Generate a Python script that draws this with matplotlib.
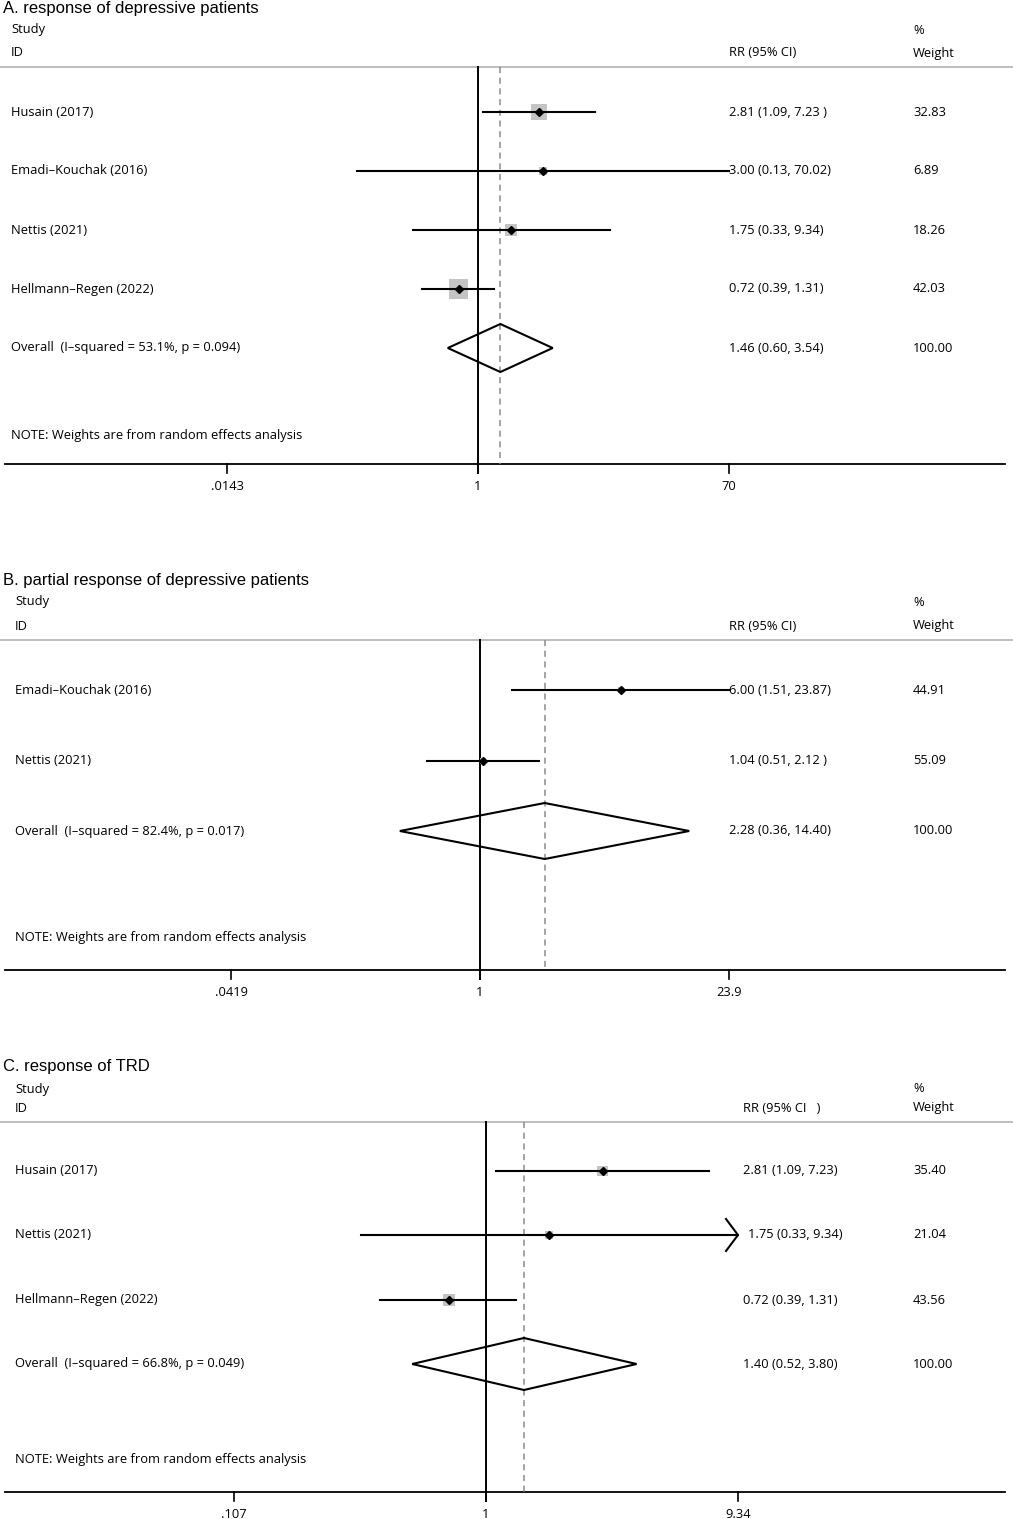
import numpy as np
import matplotlib.pyplot as plt
from matplotlib.patches import Polygon, Rectangle

# ---- data ----
titles = ["A. response of depressive patients",
          "B. partial response of depressive patients",
          "C. response of TRD"]

a_names = ["Husain (2017)", "Emadi\u2013Kouchak (2016)", "Nettis (2021)", "Hellmann\u2013Regen (2022)"]
a_rr = [2.81, 3.00, 1.75, 0.72]
a_lo = [1.09, 0.13, 0.33, 0.39]
a_hi = [7.23, 70.02, 9.34, 1.31]
a_txt = ["2.81 (1.09, 7.23 )", "3.00 (0.13, 70.02)", "1.75 (0.33, 9.34)", "0.72 (0.39, 1.31)"]
a_wt = [32.83, 6.89, 18.26, 42.03]
a_overall = (1.46, 0.60, 3.54)
a_overall_lbl = "Overall  (I\u2013squared = 53.1%, p = 0.094)"
a_overall_txt = "1.46 (0.60, 3.54)"
a_ticks = [0.0143, 1, 70]
a_ticklbl = [".0143", "1", "70"]
a_arrow = [False, False, False, False]

b_names = ["Emadi\u2013Kouchak (2016)", "Nettis (2021)"]
b_rr = [6.00, 1.04]
b_lo = [1.51, 0.51]
b_hi = [23.87, 2.12]
b_txt = ["6.00 (1.51, 23.87)", "1.04 (0.51, 2.12 )"]
b_wt = [44.91, 55.09]
b_overall = (2.28, 0.36, 14.40)
b_overall_lbl = "Overall  (I\u2013squared = 82.4%, p = 0.017)"
b_overall_txt = "2.28 (0.36, 14.40)"
b_ticks = [0.0419, 1, 23.9]
b_ticklbl = [".0419", "1", "23.9"]
b_arrow = [False, False]

c_names = ["Husain (2017)", "Nettis (2021)", "Hellmann\u2013Regen (2022)"]
c_rr = [2.81, 1.75, 0.72]
c_lo = [1.09, 0.33, 0.39]
c_hi = [7.23, 9.34, 1.31]
c_txt = ["2.81 (1.09, 7.23)", "1.75 (0.33, 9.34)", "0.72 (0.39, 1.31)"]
c_wt = [35.40, 21.04, 43.56]
c_overall = (1.40, 0.52, 3.80)
c_overall_lbl = "Overall  (I\u2013squared = 66.8%, p = 0.049)"
c_overall_txt = "1.40 (0.52, 3.80)"
c_ticks = [0.107, 1, 9.34]
c_ticklbl = [".107", "1", "9.34"]
c_arrow = [False, True, False]

W, H = 1013, 1519
BODY = "Open Sans"
TITLE = "Liberation Sans"
FS = 9.3

fig = plt.figure(figsize=(W / 100, H / 100), dpi=100)


def forest(title, names, rr, lo, hi, txt, wt, arrow, overall, ov_lbl, ov_txt,
           ticks, ticklbl, lay):
    # axes over the whole figure; y in pixel rows, x on log scale
    ax = fig.add_axes([0, 0, 1, 1])
    ax.set_xscale("log")
    one, ppl = lay["one"], lay["ppl"]
    ax.set_xlim(np.exp(-one / ppl), np.exp((W - one) / ppl))
    ax.set_ylim(H, 0)
    ax.axis("off")
    ax.patch.set_alpha(0)
    tx = ax.get_yaxis_transform()  # x in axes fraction, y in data

    def fx(px):
        return px / W

    def put(px, y, s, **kw):
        ax.text(fx(px), y, s, transform=tx, fontsize=kw.pop("fontsize", FS),
                family=kw.pop("family", BODY), va="center", **kw)

    top, rows, ov_y, note_y, axis_y = lay["top"], lay["rows"], lay["ov"], lay["note"], lay["axis"]

    put(3, top, title, fontsize=12, family=TITLE)
    put(lay["lx"], top + lay["h1"], "Study")
    put(lay["lx"], top + lay["h2"], "ID")
    put(lay["rx"], top + lay["h2"], lay["rrhead"])
    put(913, top + lay["h1"], "%")
    put(913, top + lay["h2"], "Weight")
    ax.plot([0, 1], [lay["line"]] * 2, transform=tx, color="#bdbdbd", lw=1.4)

    # axis
    ax.plot([fx(5), fx(1005)], [axis_y] * 2, transform=tx, color="black", lw=1.3)
    for t, tl in zip(ticks, ticklbl):
        ax.plot([t, t], [axis_y, axis_y + 9], color="black", lw=1.2)
        ax.text(t, axis_y + 22, tl, ha="center", va="center", fontsize=FS, family=BODY)

    ax.plot([1, 1], [lay["line"], axis_y + 9], color="black", lw=1.4)
    ax.plot([overall[0]] * 2, [lay["line"], axis_y], color="#8c8c8c", lw=1.1,
            dashes=(4, 3))

    for i, y in enumerate(rows):
        put(lay["lx"], y, names[i])
        put(lay["rx"] + (5 if arrow[i] else 0), y, txt[i])
        put(913, y, f"{wt[i]:.2f}")
        # weight box, side in pixels
        s = lay["box"] * np.sqrt(wt[i])
        x0 = rr[i] * np.exp(-s / 2 / ppl)
        x1 = rr[i] * np.exp(s / 2 / ppl)
        ax.add_patch(Rectangle((x0, y - s / 2), x1 - x0, s, facecolor="#c4c4c4",
                               edgecolor="none", zorder=2))
        ax.plot([lo[i], hi[i]], [y, y], color="black", lw=1.5, zorder=3)
        if arrow[i]:
            back = hi[i] * np.exp(-12 / ppl)
            ax.plot([back, hi[i], back], [y - 16, y, y + 16], color="black", lw=1.5, zorder=3)
        ax.plot(rr[i], y, marker="D", color="black", ms=4.5, zorder=4)

    est, olo, ohi = overall
    dh = lay["dh"]
    ax.add_patch(Polygon([(olo, ov_y), (est, ov_y - dh), (ohi, ov_y), (est, ov_y + dh)],
                         closed=True, fill=False, edgecolor="black", lw=1.5, zorder=3))
    put(lay["lx"], ov_y, ov_lbl)
    put(lay["rx"], ov_y, ov_txt)
    put(913, ov_y, "100.00")
    put(lay["lx"], note_y, "NOTE: Weights are from random effects analysis")


forest(titles[0], a_names, a_rr, a_lo, a_hi, a_txt, a_wt, a_arrow, a_overall,
       a_overall_lbl, a_overall_txt, a_ticks, a_ticklbl,
       dict(one=478, ppl=251 / np.log(70), top=8, h1=22, h2=45, line=67,
            rows=[112, 171, 230, 289], ov=348, note=436, axis=464, lx=11, rx=729,
            rrhead="RR (95% CI)", box=2.95, dh=24))
forest(titles[1], b_names, b_rr, b_lo, b_hi, b_txt, b_wt, b_arrow, b_overall,
       b_overall_lbl, b_overall_txt, b_ticks, b_ticklbl,
       dict(one=480, ppl=249 / np.log(23.9), top=580, h1=22, h2=46, line=640,
            rows=[690, 761], ov=831, note=937, axis=970, lx=15, rx=729,
            rrhead="RR (95% CI)", box=0.9, dh=28))
forest(titles[2], c_names, c_rr, c_lo, c_hi, c_txt, c_wt, c_arrow, c_overall,
       c_overall_lbl, c_overall_txt, c_ticks, c_ticklbl,
       dict(one=486, ppl=252 / np.log(9.34), top=1066, h1=23, h2=42, line=1122,
            rows=[1171, 1235, 1300], ov=1364, note=1460, axis=1492, lx=15, rx=743,
            rrhead="RR (95% CI   )", box=1.75, dh=26))

fig.savefig("out.png", dpi=100)
